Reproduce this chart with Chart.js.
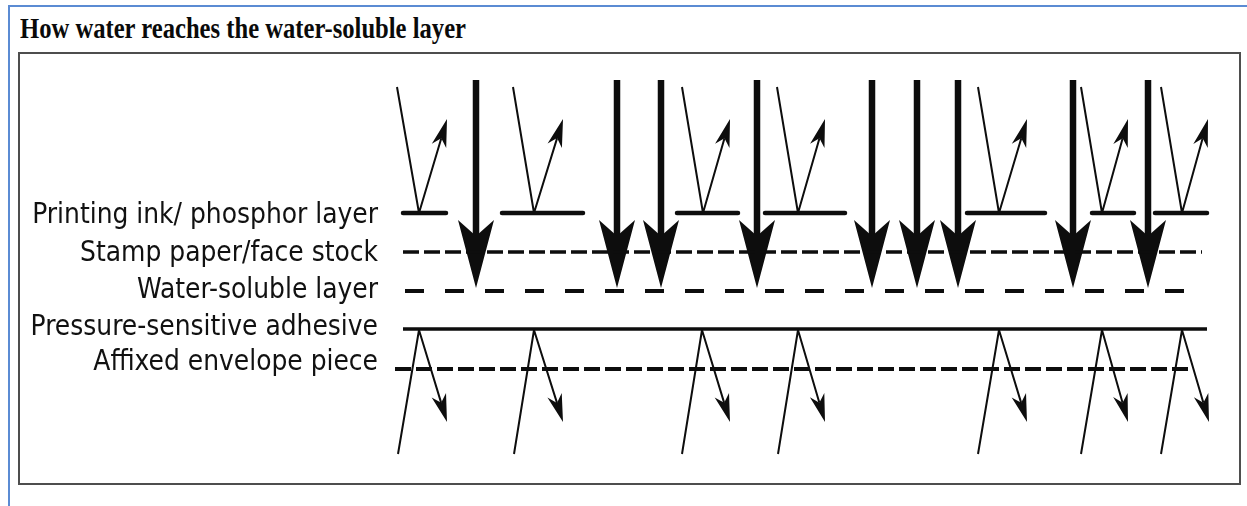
<!DOCTYPE html>
<html>
<head>
<meta charset="utf-8">
<script src="https://cdn.jsdelivr.net/npm/chart.js@4"></script>
<style>
  html, body { margin: 0; padding: 0; background: #fff; overflow: hidden; }
  #wrap { position: relative; width: 1247px; height: 506px; }
  #outer { position: absolute; left: 8px; top: 5px; right: 0; bottom: 0;
           border-top: 2px solid #5b8bd3; border-left: 2px solid #5b8bd3; }
  #inner { position: absolute; left: 18px; top: 52px; width: 1219px; height: 429px;
           border: 2px solid #4e4e4e; }
  #title { position: absolute; left: 20px; top: 14px; white-space: nowrap;
           font-family: "Liberation Serif", "Times New Roman", serif; font-weight: bold;
           font-size: 29px; line-height: 29px; color: #0a0a0a; transform-origin: 0 0; }
  canvas { position: absolute; left: 0; top: 0; }
</style>
</head>
<body>
<div id="wrap">
  <div id="outer"></div>
  <div id="inner"></div>
  <div id="title"><span id="titleText">How water reaches the water-soluble layer</span></div>
  <canvas id="c" width="1247" height="506"></canvas>
</div>
<script>
// ---------- data (diagram units) ----------
const titleText = 'How water reaches the water-soluble layer';
const layerNames = ['Printing ink/ phosphor layer', 'Stamp paper/face stock', 'Water-soluble layer',
                    'Pressure-sensitive adhesive', 'Affixed envelope piece'];
const labelY = [216, 254, 291, 328, 363];

// layer lines (stamp paper, water-soluble, adhesive, envelope)
const layerLineY     = [252, 291, 329, 369];
const layerLineStart = [403, 405, 403, 395];
const layerLineEnd   = [1202, 1187, 1207, 1192];

// printing ink / phosphor segments
const inkY = 213;
const inkStart = [403, 502, 677, 765, 967, 1092, 1155];
const inkEnd   = [446, 583, 738, 845, 1045, 1134, 1207];

// reflected rays at the ink layer (V shapes)
const vStartX  = [397, 513, 682, 777, 978, 1081, 1161];
const vBottomX = [419, 534, 703, 798, 999, 1102, 1182];
const vTipX    = [447, 563, 730, 825, 1027, 1128, 1208];
const vStartY = 87, vBottomY = 213, vTipY = 119;

// reflected rays at the adhesive layer (A shapes)
const aStartX = [398, 514, 682, 778, 978, 1081, 1161];
const aApexX  = [419, 534, 702, 798, 999, 1102, 1182];
const aTipX   = [447, 563, 730, 825, 1027, 1128, 1209];
const aStartY = 454, aApexY = 330, aTipY = 422;

// water penetrating to the water-soluble layer (bold arrows)
const penX = [476, 617, 661, 757, 872, 917, 958, 1073, 1148];
const penTopY = 80, penTipY = 288;

// ---------- build datasets ----------
const black = '#0d0d0d';
const datasets = [];
const layerDash = [[16, 5], [19, 21], [], [16, 5]];
const layerWidth = [3.5, 4, 3.5, 4];
layerLineY.forEach((y, i) => {
  datasets.push({ data: [{x: layerLineStart[i], y}, {x: layerLineEnd[i], y}],
    borderColor: black, borderWidth: layerWidth[i], borderDash: layerDash[i], borderCapStyle: 'butt' });
});
inkStart.forEach((s, i) => {
  datasets.push({ data: [{x: s, y: inkY}, {x: inkEnd[i], y: inkY}],
    borderColor: black, borderWidth: 4.5, borderCapStyle: 'round' });
});
const thinHead = { len: 28, half: 7.5, notch: 20, shaft: 2 };
vStartX.forEach((s, i) => {
  datasets.push({ data: [{x: s, y: vStartY}, {x: vBottomX[i], y: vBottomY}, {x: vTipX[i], y: vTipY}],
    borderColor: black, borderWidth: 2, arrow: thinHead });
});
aStartX.forEach((s, i) => {
  datasets.push({ data: [{x: s, y: aStartY}, {x: aApexX[i], y: aApexY}, {x: aTipX[i], y: aTipY}],
    borderColor: black, borderWidth: 2, arrow: thinHead });
});
const bigHead = { len: 68, half: 18, notch: 52, shaft: 6.5 };
penX.forEach(x => {
  datasets.push({ data: [{x, y: penTopY}, {x, y: penTipY}],
    borderColor: black, borderWidth: 6.5, arrow: bigHead });
});
datasets.forEach(d => { d.showLine = true; d.pointRadius = 0; d.fill = false; d.tension = 0; });

// ---------- arrow drawing plugin (uses library-computed point positions) ----------
const arrowPlugin = {
  id: 'arrows',
  beforeDatasetDraw(chart, args) {
    const ds = chart.data.datasets[args.index];
    if (!ds.arrow) return;
    const pts = args.meta.data;
    const ctx = chart.ctx;
    const n = pts.length;
    const a = pts[n - 2], b = pts[n - 1];
    const dx = b.x - a.x, dy = b.y - a.y, L = Math.hypot(dx, dy);
    const ux = dx / L, uy = dy / L, px = -uy, py = ux;
    const h = ds.arrow;
    ctx.save();
    ctx.strokeStyle = ds.borderColor;
    ctx.lineWidth = h.shaft;
    ctx.lineCap = 'butt';
    ctx.lineJoin = 'round';
    ctx.beginPath();
    ctx.moveTo(pts[0].x, pts[0].y);
    for (let i = 1; i < n - 1; i++) ctx.lineTo(pts[i].x, pts[i].y);
    ctx.lineTo(b.x - ux * h.notch, b.y - uy * h.notch);
    ctx.stroke();
    ctx.fillStyle = ds.borderColor;
    ctx.beginPath();
    ctx.moveTo(b.x, b.y);
    ctx.lineTo(b.x - ux * h.len + px * h.half, b.y - uy * h.len + py * h.half);
    ctx.lineTo(b.x - ux * h.notch, b.y - uy * h.notch);
    ctx.lineTo(b.x - ux * h.len - px * h.half, b.y - uy * h.len - py * h.half);
    ctx.closePath();
    ctx.fill();
    ctx.restore();
    return false;
  }
};

new Chart(document.getElementById('c'), {
  type: 'scatter',
  data: { datasets },
  options: {
    responsive: false,
    devicePixelRatio: 1,
    animation: false,
    events: [],
    layout: { padding: 0 },
    plugins: { legend: { display: false }, tooltip: { enabled: false }, title: { display: false } },
    scales: {
      x: { type: 'linear', min: 390, max: 1247, display: false },
      y: {
        type: 'linear', min: 0, max: 506, reverse: true, position: 'left',
        grid: { display: false, drawTicks: false },
        border: { display: false },
        afterBuildTicks: (scale) => { scale.ticks = labelY.map(v => ({ value: v })); },
        afterFit: (scale) => { scale.width = 390; scale.paddingTop = 0; scale.paddingBottom = 0; },
        ticks: {
          autoSkip: false, padding: 12, color: '#111111',
          font: { family: '"DejaVu Sans Condensed", "DejaVu Sans", sans-serif', size: 27.8 },
          callback: (value, index) => layerNames[index]
        }
      }
    }
  },
  plugins: [arrowPlugin]
});

// fit the condensed bold serif title to its width in the picture
(function () {
  const t = document.getElementById('titleText');
  t.textContent = titleText;
  const w = t.getBoundingClientRect().width;
  document.getElementById('title').style.transform = 'scaleX(' + (446 / w) + ')';
})();
</script>
</body>
</html>
